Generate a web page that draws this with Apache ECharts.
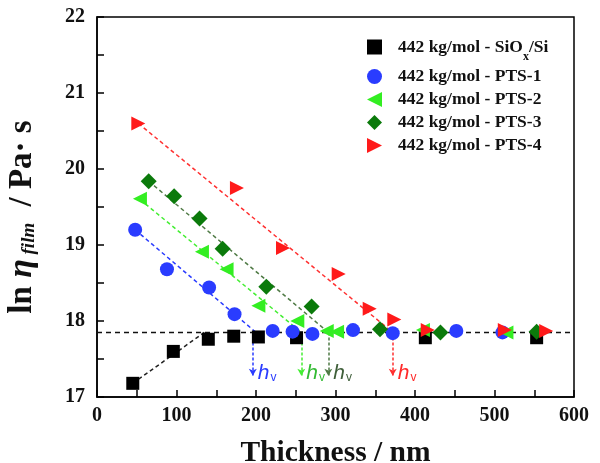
<!DOCTYPE html>
<html>
<head>
<meta charset="utf-8">
<script src="https://cdn.jsdelivr.net/npm/echarts@6/dist/echarts.min.js"></script>
<style>
  html, body { margin: 0; padding: 0; background: #fff; }
  #chart { width: 600px; height: 463px; }
</style>
</head>
<body>
<div id="chart"></div>
<script>
// measured points (thickness nm, ln eta)
const sioxPts = [[45,17.18],[96,17.6],[140,17.76],[172,17.8],[203,17.79],[251,17.78],[413,17.78],[553,17.78]];
const pts1 = [[48,19.2],[88,18.68],[141,18.44],[173,18.09],[221,17.87],[246,17.86],[271,17.83],[322,17.88],[372,17.84],[452,17.87],[510,17.85]];
const pts2 = [[54,19.61],[132,18.91],[163,18.68],[203,18.2],[252,18.0],[289,17.87],[302,17.86],[410,17.88],[515,17.85]];
const pts3 = [[65,19.84],[97,19.64],[129,19.35],[158,18.95],[213,18.45],[270,18.19],[356,17.89],[432,17.85],[553,17.86]];
const pts4 = [[52,20.6],[176,19.75],[234,18.96],[304,18.62],[343,18.16],[374,18.02],[416,17.88],[513,17.88],[565,17.87]];

// dashed guide lines
const bulkLevel = 17.85;
const bulkLine = [[0,bulkLevel],[600,bulkLevel]];
const fitSiox = [[45,17.18],[135,bulkLevel]];
const fit1 = [[48,19.2],[200,bulkLevel]];
const fit2 = [[54,19.6],[257,bulkLevel]];
const fit3 = [[65,19.84],[291,bulkLevel]];
const fit4 = [[52,20.6],[372,bulkLevel]];

// h_v positions and arrow tip
const hv = [196, 257, 291, 372];
const arrowTip = 17.28;

const names = ['442 kg/mol - SiOx/Si','442 kg/mol - PTS-1','442 kg/mol - PTS-2','442 kg/mol - PTS-3','442 kg/mol - PTS-4'];
const colors = ['#000000','#2a3cff','#33ee22','#0b7a0b','#ff1a1a'];
const lineColors = ['#222222','#2a3cff','#44ee33','#4f7a45','#ff3030'];
const hvColors = ['#2a3cff','#33bb33','#3f5f3a','#ff2a2a'];
const symbols = ['rect','circle','path://M0,5L10,0L10,10Z','diamond','path://M0,0L10,5L0,10Z'];
const symSizes = [13,14,[14,14],[16,16],[14,14]];

const FONT = 'Liberation Serif';

const chart = echarts.init(document.getElementById('chart'));

const fitData = [fitSiox, fit1, fit2, fit3, fit4];
const ptData = [sioxPts, pts1, pts2, pts3, pts4];

const series = [];
series.push({
  type: 'line', data: bulkLine, symbol: 'none', silent: true,
  lineStyle: { color: '#111', width: 1.5, type: [5, 4] }, z: 1
});
fitData.forEach((d, i) => {
  const s = {
    type: 'line', data: d, symbol: 'none', silent: true,
    lineStyle: { color: lineColors[i], width: 1.5, type: [4, 3] }, z: 2
  };
  if (i > 0) {
    const x = hv[i - 1];
    const c = hvColors[i - 1];
    s.markLine = {
      silent: true,
      symbol: ['none', 'arrow'],
      symbolSize: [6, 7],
      label: { show: false },
      lineStyle: { color: lineColors[i], width: 1.5, type: [3, 2] },
      data: [[{ coord: [x, bulkLevel] }, { coord: [x, arrowTip] }]]
    };
    s.markPoint = {
      silent: true,
      symbol: 'circle', symbolSize: 0,
      label: {
        show: true, position: 'right', distance: 5, offset: [0, -3],
        formatter: '{h|h}{v|v}',
        rich: {
          h: { fontFamily: 'Liberation Sans', fontStyle: 'italic', fontSize: 21, color: c },
          v: { fontFamily: 'Liberation Sans', fontSize: 12, color: c, padding: [10, 0, 0, 1] }
        }
      },
      data: [{ coord: [x, arrowTip] }]
    };
  }
  series.push(s);
});
ptData.forEach((d, i) => {
  series.push({
    name: names[i], type: 'scatter', data: d,
    symbol: symbols[i], symbolSize: symSizes[i],
    itemStyle: { color: colors[i], opacity: 1 }, z: 5
  });
});

chart.setOption({
  animation: false,
  grid: {
    left: 97, right: 26, top: 17, bottom: 66, outerBoundsMode: 'none',
    show: true, borderColor: '#000', borderWidth: 1.5
  },
  legend: {
    orient: 'vertical', left: 362, top: 33,
    itemWidth: 15, itemHeight: 15, itemGap: 5,
    data: names,
    formatter: n => n.indexOf('SiOx') >= 0 ? '{c|442 kg/mol - SiO}{s|x}{b|/Si}' : '{c|' + n + '}',
    textStyle: {
      rich: {
        c: { fontFamily: FONT, fontWeight: 'bold', fontSize: 17.5, color: '#111', padding: [0, 0, 0, 11] },
        b: { fontFamily: FONT, fontWeight: 'bold', fontSize: 17.5, color: '#111' },
        s: { fontFamily: FONT, fontWeight: 'bold', fontSize: 12, color: '#111', padding: [19, 0, 0, 0] }
      }
    }
  },
  xAxis: {
    type: 'value', min: 0, max: 600, interval: 100,
    name: 'Thickness / nm', nameLocation: 'middle', nameGap: 41,
    nameTextStyle: { fontFamily: FONT, fontWeight: 'bold', fontSize: 29.5, color: '#111' },
    axisLine: { lineStyle: { color: '#000', width: 1.5 } },
    axisTick: { inside: true, length: 7, lineStyle: { color: '#000', width: 1.5 } },
    minorTick: { show: true, splitNumber: 2, length: 7, lineStyle: { color: '#000', width: 1.5 } },
    axisLabel: { fontFamily: FONT, fontWeight: 'bold', fontSize: 20, color: '#111', margin: 9 },
    splitLine: { show: false }
  },
  yAxis: {
    type: 'value', min: 17, max: 22, interval: 1,
    name: '{a|ln }{e|η}{f| film}{a| / Pa· s}', nameLocation: 'middle', nameGap: 58, nameRotate: 90,
    nameTextStyle: {
      padding: [0, 20, 0, 0],
      rich: {
        a: { fontFamily: FONT, fontWeight: 'bold', fontSize: 33, color: '#111' },
        e: { fontFamily: FONT, fontWeight: 'bold', fontStyle: 'italic', fontSize: 34, color: '#111' },
        f: { fontFamily: FONT, fontWeight: 'bold', fontStyle: 'italic', fontSize: 19, color: '#111', padding: [15, 8, 0, 0] }
      }
    },
    axisLine: { lineStyle: { color: '#000', width: 1.5 } },
    axisTick: { inside: true, length: 7, lineStyle: { color: '#000', width: 1.5 } },
    minorTick: { show: true, splitNumber: 2, length: 7, lineStyle: { color: '#000', width: 1.5 } },
    axisLabel: { fontFamily: FONT, fontWeight: 'bold', fontSize: 20, color: '#111', margin: 12 },
    splitLine: { show: false }
  },
  series: series
});
</script>
</body>
</html>
